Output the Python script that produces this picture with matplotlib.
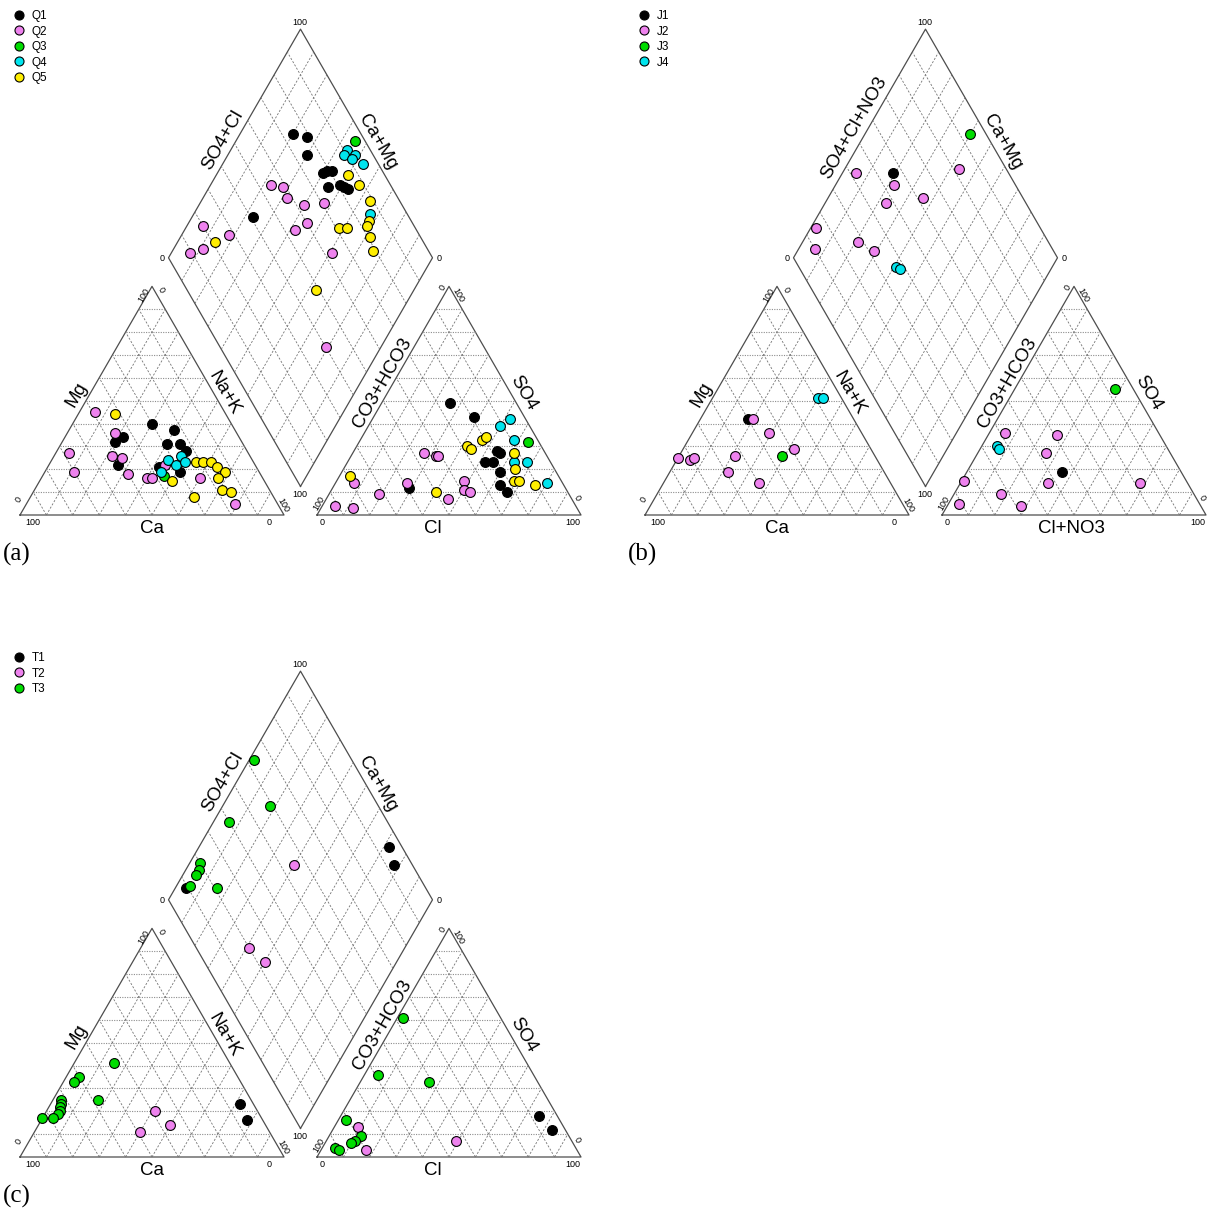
import matplotlib
matplotlib.use('Agg')
import matplotlib.pyplot as plt
from matplotlib.lines import Line2D
import numpy as np

plt.rcParams['font.family'] = ['Liberation Sans', 'DejaVu Sans']

# ---- data (percent of meq) ----
# cation triangle: (Ca, Mg); Na+K is the rest
# anion triangle: (Cl, SO4); CO3+HCO3 is the rest
# diamond: (SO4+Cl, Ca+Mg)

Q1_CATION = [(30, 40), (23, 37), (44, 34), (48, 32), (29, 31), (24, 31), (23, 28), (52, 22), (37, 21), (30, 19)]
Q2_CATION = [(49, 45), (46, 36), (68, 27), (70, 19), (52, 26), (49, 25), (50, 18), (44, 16), (42, 16), (34, 22),
             (24, 16), (16, 5)]
Q3_CATION = [(37, 17)]
Q4_CATION = [(26, 26), (32, 24), (30, 22), (26, 23), (37, 19)]
Q5_CATION = [(42, 44), (35, 15), (22, 23), (19, 23), (16, 23), (15, 21), (13, 19), (17, 16), (18, 11), (15, 10), (30, 8)]

Q1_ANION = [(26, 49), (38, 43), (54, 28), (56, 27), (52, 23), (55, 23), (60, 19), (63, 13), (67, 10), (29, 12)]
Q2_ANION = [(27, 27), (32, 26), (33, 26), (7, 14), (5, 4), (12, 3), (19, 9), (27, 14), (46, 7), (48, 15), (50, 11), (53, 10)]
Q3_ANION = [(64, 32)]
Q4_ANION = [(52, 42), (50, 39), (58, 33), (63, 23), (68, 23), (80, 14)]
Q5_ANION = [(46, 33), (47, 34), (42, 30), (44, 29), (4, 17), (40, 10), (61, 27), (65, 20), (67, 15), (69, 15), (76, 13)]

Q1_DIAMOND = [(74, 80), (79, 74), (75, 70), (77, 60), (79, 59), (81, 57), (76, 55), (81, 51), (82, 49), (83, 47), (41, 77)]
Q2_DIAMOND = [(55, 77), (59, 72), (58, 68), (63, 60), (71, 53), (60, 55), (54, 58), (20, 94), (28, 82), (15, 89), (9, 93),
              (63, 39), (40, 21)]
Q3_DIAMOND = [(96, 55)]
Q4_DIAMOND = [(91, 56), (93, 52), (89, 56), (91, 52), (94, 47), (86, 33)]
Q5_DIAMOND = [(86, 50), (88, 44), (89, 36), (84, 32), (82, 32), (71, 42), (74, 39), (81, 28), (79, 24), (21, 86), (49, 37)]

J1_CATION = [(40, 42)]
J2_CATION = [(38, 42), (35, 36), (75, 25), (71, 24), (69, 25), (53, 26), (59, 19), (50, 14), (29, 29)]
J3_CATION = [(35, 26)]
J4_CATION = [(9, 51), (7, 51)]

J1_ANION = [(36, 19)]
J2_ANION = [(6, 36), (26, 35), (26, 27), (33, 14), (18, 9), (28, 4), (1, 15), (4, 5), (68, 14)]
J3_ANION = [(38, 55)]
J4_ANION = [(6, 30), (7, 29)]

J1_DIAMOND = [(56, 81)]
J2_DIAMOND = [(82, 57), (42, 95), (54, 78), (47, 77), (62, 64), (15, 98), (10, 94), (28, 79), (32, 71)]
J3_DIAMOND = [(94, 60)]
J4_DIAMOND = [(37, 59), (38, 57)]

T1_CATION = [(5, 23), (6, 16)]
T2_CATION = [(39, 20), (36, 14), (49, 11)]
T3_CATION = [(44, 41), (60, 35), (63, 33), (58, 25), (72, 25), (73, 23), (74, 22), (75, 20), (76, 19), (79, 17), (83, 17)]

T1_ANION = [(75, 18), (83, 12)]
T2_ANION = [(9, 13), (17, 3), (49, 7)]
T3_ANION = [(2, 61), (5, 36), (26, 33), (3, 16), (12, 9), (11, 7), (10, 6), (5, 4), (7, 3)]

T1_DIAMOND = [(95, 28), (93, 22), (9, 96)]
T2_DIAMOND = [(55, 60), (20, 59), (23, 50)]
T3_DIAMOND = [(63, 98), (59, 82), (40, 94), (20, 96), (18, 95), (16, 95), (11, 95), (21, 84)]

COLORS = ['black', 'violet', '#00dd00', '#00e5ee', '#ffee00']

PANELS = [
    dict(tag='(a)', origin=(20, 515), names=['Q1', 'Q2', 'Q3', 'Q4', 'Q5'],
         anion_name='SO4+Cl', anion_pos=(0.769, 1.420), cl_name='Cl', cl_pos=(1.564, -0.05),
         cation=[Q1_CATION, Q2_CATION, Q3_CATION, Q4_CATION, Q5_CATION],
         anion=[Q1_ANION, Q2_ANION, Q3_ANION, Q4_ANION, Q5_ANION],
         diamond=[Q1_DIAMOND, Q2_DIAMOND, Q3_DIAMOND, Q4_DIAMOND, Q5_DIAMOND]),
    dict(tag='(b)', origin=(645, 515), names=['J1', 'J2', 'J3', 'J4'],
         anion_name='SO4+Cl+NO3', anion_pos=(0.792, 1.466), cl_name='Cl+NO3', cl_pos=(1.617, -0.05),
         cation=[J1_CATION, J2_CATION, J3_CATION, J4_CATION],
         anion=[J1_ANION, J2_ANION, J3_ANION, J4_ANION],
         diamond=[J1_DIAMOND, J2_DIAMOND, J3_DIAMOND, J4_DIAMOND]),
    dict(tag='(c)', origin=(20, 1157), names=['T1', 'T2', 'T3'],
         anion_name='SO4+Cl', anion_pos=(0.769, 1.420), cl_name='Cl', cl_pos=(1.564, -0.05),
         cation=[T1_CATION, T2_CATION, T3_CATION],
         anion=[T1_ANION, T2_ANION, T3_ANION],
         diamond=[T1_DIAMOND, T2_DIAMOND, T3_DIAMOND]),
]

# ---- geometry ----
W, H = 1207, 1213
S = 264.0      # triangle side, px
GAP = 0.125    # gap between the two triangles, side units
R3 = np.sqrt(3) / 2


def cation_xy(pts):
    ca, mg = np.array(pts, dtype=float).T / 100
    nak = 1 - ca - mg
    return nak + mg / 2, mg * R3


def anion_xy(pts):
    cl, so4 = np.array(pts, dtype=float).T / 100
    return 1 + GAP + cl + so4 / 2, so4 * R3


def diamond_xy(a, c):
    return 1 + GAP / 2 + (a - c) / 2, GAP * R3 + (a + c) * R3


def diamond_pts(pts):
    a, c = np.array(pts, dtype=float).T / 100
    return diamond_xy(a, c)


EDGE = dict(color='0.3', lw=0.9)
DASH = dict(color='0.45', lw=0.6, ls=(0, (2.5, 2)))
DOT = dict(color='0.55', lw=0.8, ls=(0, (1, 1.2)))


def draw_frame(ax):
    for x0 in (0, 1 + GAP):
        ax.plot([x0, x0 + 1, x0 + 0.5, x0], [0, 0, R3, 0], **EDGE)
        for i in range(1, 10):
            f = i / 10
            ax.plot([x0 + f / 2, x0 + 1 - f / 2], [f * R3, f * R3], **DOT)
            ax.plot([x0 + f, x0 + f / 2], [0, f * R3], **DASH)
            ax.plot([x0 + f, x0 + f + (1 - f) / 2], [0, (1 - f) * R3], **DASH)
    cx, cy = diamond_xy(np.array([0, 1, 1, 0, 0]), np.array([0, 0, 1, 1, 0]))
    ax.plot(cx, cy, **EDGE)
    for i in range(1, 10):
        f = i / 10
        x, y = diamond_xy(np.array([f, f]), np.array([0, 1]))
        ax.plot(x, y, **DASH)
        x, y = diamond_xy(np.array([0, 1]), np.array([f, f]))
        ax.plot(x, y, **DASH)


def draw_labels(ax, p):
    big = dict(fontsize=13.5, ha='center', va='center')
    ax.text(0.5, -0.05, 'Ca', **big)
    ax.text(0.216, 0.455, 'Mg', rotation=60, **big)
    ax.text(0.773, 0.462, 'Na+K', rotation=-60, **big)
    ax.text(*p['cl_pos'], p['cl_name'], **big)
    ax.text(1.371, 0.50, 'CO3+HCO3', rotation=60, **big)
    ax.text(1.905, 0.462, 'SO4', rotation=-60, **big)
    ax.text(*p['anion_pos'], p['anion_name'], rotation=60, **big)
    ax.text(1.356, 1.413, 'Ca+Mg', rotation=-60, **big)

    sm = dict(fontsize=6.5, ha='center', va='center')
    ax.text(0.049, -0.030, '100', **sm)
    ax.text(0.943, -0.030, '0', **sm)
    ax.text(-0.004, 0.057, '0', rotation=60, **sm)
    ax.text(0.470, 0.833, '100', rotation=60, **sm)
    ax.text(0.534, 0.852, '0', rotation=-60, **sm)
    ax.text(0.996, 0.038, '100', rotation=-60, **sm)
    ax.text(1.144, -0.030, '0', **sm)
    ax.text(2.095, -0.030, '100', **sm)
    ax.text(1.133, 0.045, '100', rotation=60, **sm)
    ax.text(1.602, 0.860, '0', rotation=60, **sm)
    ax.text(1.659, 0.833, '100', rotation=-60, **sm)
    ax.text(2.110, 0.064, '0', rotation=-60, **sm)
    ax.text(1.061, 1.867, '100', **sm)
    ax.text(0.538, 0.970, '0', **sm)
    ax.text(1.587, 0.970, '0', **sm)
    ax.text(1.061, 0.076, '100', **sm)


fig = plt.figure(figsize=(W / 100, H / 100), dpi=100)

for p in PANELS:
    ox, oy = p['origin']
    x0, x1, y0, y1 = -0.07, 2.3, -0.12, 1.92
    ax = fig.add_axes([(ox + x0 * S) / W, (H - oy + y0 * S) / H, (x1 - x0) * S / W, (y1 - y0) * S / H])
    ax.set_xlim(x0, x1)
    ax.set_ylim(y0, y1)
    ax.axis('off')
    draw_frame(ax)
    draw_labels(ax, p)

    handles = []
    for k, name in enumerate(p['names']):
        col = COLORS[k]
        kw = dict(s=50, c=col, edgecolors='black', linewidths=0.8, zorder=3 + k)
        ax.scatter(*cation_xy(p['cation'][k]), **kw)
        ax.scatter(*anion_xy(p['anion'][k]), **kw)
        ax.scatter(*diamond_pts(p['diamond'][k]), **kw)
        handles.append(Line2D([], [], ls='', marker='o', markersize=6.5, markerfacecolor=col,
                              markeredgecolor='black', markeredgewidth=0.8))

    lx = ox - 1 - 6
    ly = oy - 505
    fig.legend(handles, p['names'], loc='upper left', bbox_to_anchor=(lx / W, 1 - ly / H),
               frameon=False, fontsize=8.5, borderpad=0, borderaxespad=0, handlelength=1,
               handletextpad=0.6, labelspacing=0.3)

    fig.text((ox - 17) / W, 1 - (oy + 39) / H, p['tag'], fontsize=18, va='center', ha='left',
             family=['Liberation Serif', 'DejaVu Serif'])

fig.savefig('out.png', dpi=100)
